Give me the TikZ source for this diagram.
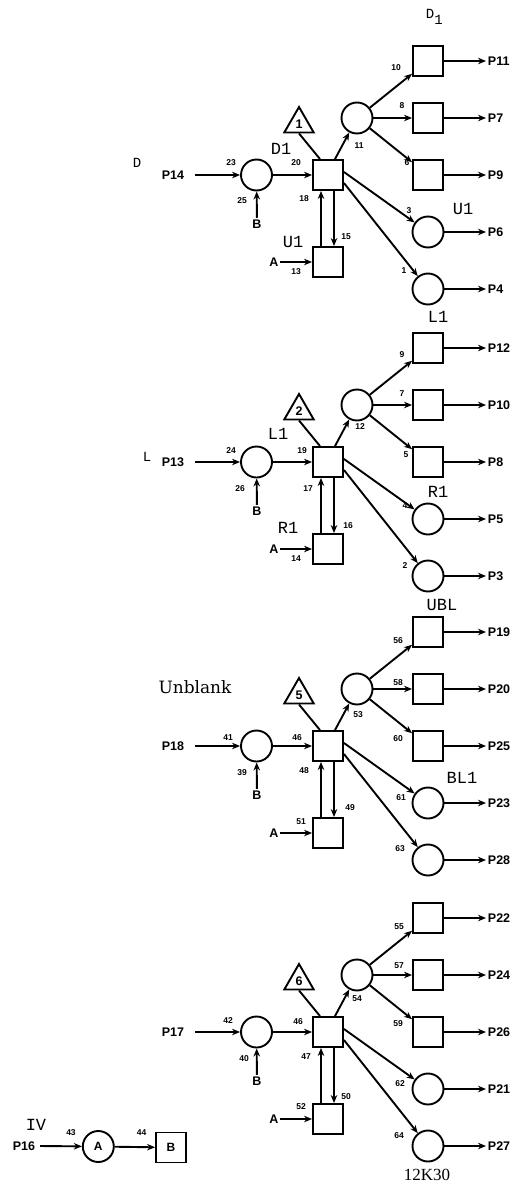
\documentclass[tikz,border=0pt]{standalone}
\usepackage{fontspec}
\setmainfont{Liberation Sans}
\newfontfamily\monof{Liberation Mono}
\newfontfamily\dserif{DejaVu Serif}
\newfontfamily\lserif{Liberation Serif}
\usetikzlibrary{arrows.meta,shapes.geometric}
\tikzset{
 pl/.style={font=\bfseries\fontsize{12.5}{13}\selectfont, inner sep=1pt},
 num/.style={font=\bfseries\fontsize{8.5}{9}\selectfont, inner sep=0pt},
 tl/.style={font=\monof\fontsize{17}{18}\selectfont, inner sep=0pt},
 tls/.style={font=\monof\fontsize{14}{15}\selectfont, inner sep=0pt},
 circ/.style={circle, draw, minimum size=31pt, inner sep=0pt, font=\bfseries\fontsize{12}{13}\selectfont},
 sq/.style={rectangle, draw, minimum size=30pt, inner sep=0pt, font=\bfseries\fontsize{12}{13}\selectfont},
 tri/.style={regular polygon, regular polygon sides=3, draw, minimum size=34pt, inner sep=0pt, font=\bfseries\fontsize{12.5}{13}\selectfont},
 arr/.style={-{Stealth[length=8pt,width=6.5pt]}},
}
\newcommand\coreblock[7]{%
 \node[pl,anchor=east] (pin) at (186,0) {#2};
 \node[circ] (c) at (256.5,0) {};
 \node[pl] (bb) at (257,49) {B};
 \node[sq] (m) at (328,0) {};
 \node[tri] (t) at (299,-51) {#1};
 \node[circ] (s) at (357,-57) {};
 \node[sq] (r1) at (428,-114) {};
 \node[sq] (r2) at (428,-57) {};
 \node[sq] (r3) at (428,0) {};
 \node[circ] (r4) at (428,57) {};
 \node[circ] (r5) at (428,114) {};
 \node[sq] (lo) at (328,87) {};
 \node[pl] (aa) at (274,87) {A};
 \node[pl,anchor=west] (p1) at (486,-114) {#3};
 \node[pl,anchor=west] (p2) at (486,-57) {#4};
 \node[pl,anchor=west] (p3) at (486,0) {#5};
 \node[pl,anchor=west] (p4) at (486,57) {#6};
 \node[pl,anchor=west] (p5) at (486,114) {#7};
 \draw[arr] ([xshift=9pt]pin.east) -- (c);
 \draw[arr] (bb) -- (c);
 \draw[arr] (c) -- (m);
 \draw (t.south) -- ([xshift=-8pt]m.north);
 \draw[arr] ([xshift=7pt]m.north) -- (s);
 \draw[arr] (s) -- (r1);
 \draw[arr] (s) -- (r2);
 \draw[arr] (s) -- (r3);
 \draw[arr] ([yshift=3pt]m.east) -- (r4);
 \draw[arr] ([yshift=-8pt]m.east) -- (r5);
 \draw[arr] ([xshift=-7pt]lo.north) -- ([xshift=-7pt]m.south);
 \draw[arr] ([xshift=6pt]m.south) -- ([xshift=6pt]lo.north);
 \draw[arr] (aa) -- (lo);
 \foreach \i in {1,...,5} {\draw[arr] (r\i) -- (p\i);}
}
\begin{document}
\begin{tikzpicture}[x=1pt,y=-1pt,line width=1.9pt]
\useasboundingbox (0,0) rectangle (515,1186);
% block 1
\begin{scope}[shift={(0,175)}, name prefix=b1-]
 \coreblock{1}{P14}{P11}{P7}{P9}{P6}{P4}
 \foreach \x/\y/\t [count=\i] in {231/-12/23, 242/26/25, 296/-12/20, 359/-29/11, 396/-107/10, 402/-69/8, 407/-12/6, 409/36/3, 404/96/1, 304/24/18, 346/62/15, 296/97/13}
  {\node[num] (n\i) at (\x,\y) {\t};}
 \node[tls] (ll) at (137,-12) {D};
 \node[tl] (ml) at (281,-26) {D1};
 \node[tls,anchor=base west] (tpl) at (425,-156.7) {D\raisebox{-6pt}{1}};
 \node[tl] (rl) at (463,34) {U1};
 \node[tl] (lol) at (293,67) {U1};
\end{scope}
% block 2
\begin{scope}[shift={(0,462)}, name prefix=b2-]
 \coreblock{2}{P13}{P12}{P10}{P8}{P5}{P3}
 \foreach \x/\y/\t [count=\i] in {231/-11/24, 240/27/26, 302/-11/19, 360/-35/12, 402/-107/9, 402/-68/7, 406/-7/5, 405/44/4, 405/104/2, 308/27/17, 348/64/16, 296/97/14}
  {\node[num] (n\i) at (\x,\y) {\t};}
 \node[tls] (ll) at (147,-5) {L};
 \node[tl] (ml) at (278,-28) {L1};
 \node[tl] (tpl) at (438,-145) {L1};
 \node[tl] (rl) at (438,30) {R1};
 \node[tl] (lol) at (288,66) {R1};
\end{scope}
% block 3
\begin{scope}[shift={(0,746)}, name prefix=b3-]
 \coreblock{5}{P18}{P19}{P20}{P25}{P23}{P28}
 \foreach \x/\y/\t [count=\i] in {228/-8/41, 242/27/39, 297/-8/46, 358/-31/53, 398/-105/56, 398/-63/58, 398/-7/60, 401/52/61, 400/103/63, 304/25/48, 350/62/49, 301/76/51}
  {\node[num] (n\i) at (\x,\y) {\t};}
 \node[font=\dserif\fontsize{17}{18}\selectfont, inner sep=0pt] (ll) at (195,-59) {Unblank};
 \node[tl] (tpl) at (442,-141) {UBL};
 \node[tl] (rl) at (462,32) {BL1};
\end{scope}
% block 4
\begin{scope}[shift={(0,1032)}, name prefix=b4-]
 \coreblock{6}{P17}{P22}{P24}{P26}{P21}{P27}
 \foreach \x/\y/\t [count=\i] in {228/-11/42, 244/27/40, 298/-10/46, 357/-33/54, 399/-105/55, 399/-66/57, 398/-8/59, 400/52/62, 399/104/64, 306/25/47, 346/65/50, 301/75/52}
  {\node[num] (n\i) at (\x,\y) {\t};}
 \node[font=\lserif\fontsize{17}{18}\selectfont, inner sep=0pt] (bl) at (427,143) {12K30};
\end{scope}
% IV
\node[tl] (iv) at (36,1125) {IV};
\node[pl] (p16) at (24,1146) {P16};
\node[circ] (ca) at (98.3,1146.5) {A};
\node[sq] (sb) at (171,1147.5) {B};
\draw[arr] ([xshift=3pt]p16.east) -- (ca);
\draw[arr] (ca) -- (sb);
\node[num] (n43) at (71,1133) {43};
\node[num] (n44) at (141.7,1133) {44};
\end{tikzpicture}
\end{document}
